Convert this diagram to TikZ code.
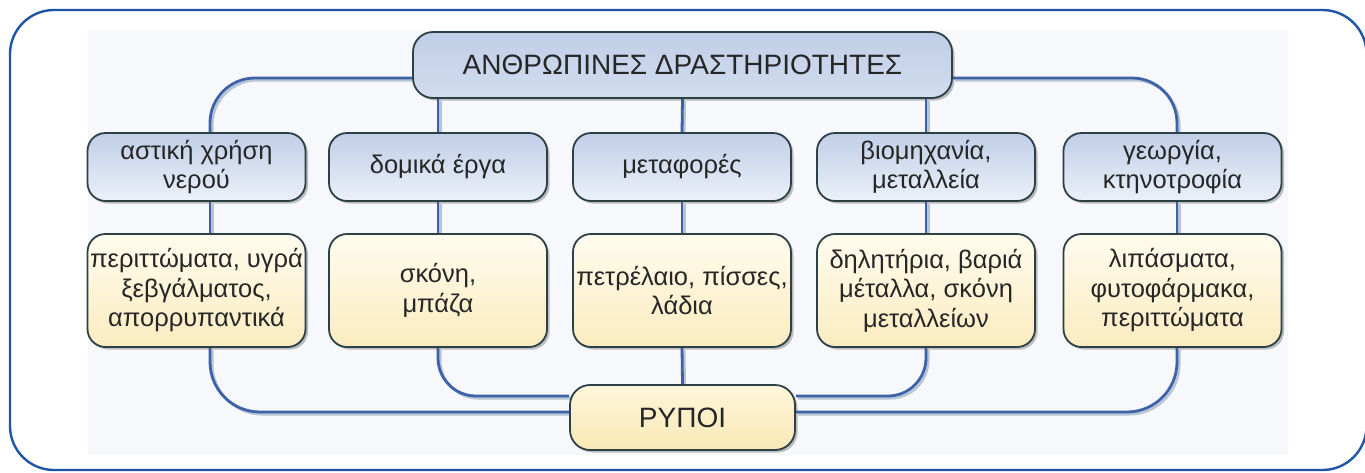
\documentclass[tikz,border=0pt]{standalone}
\usepackage{fontspec}
\setmainfont{Liberation Sans}
\usetikzlibrary{shadows}
\definecolor{framec}{RGB}{30,85,168}
\definecolor{bgc}{RGB}{246,248,252}
\definecolor{linkc}{RGB}{62,98,168}
\definecolor{links}{RGB}{182,196,214}
\definecolor{boxline}{RGB}{45,64,70}
\definecolor{bluetop}{RGB}{192,206,231}
\definecolor{bluebot}{RGB}{236,241,249}
\definecolor{yeltop}{RGB}{255,252,238}
\definecolor{yelbot}{RGB}{251,236,192}
\definecolor{rtop}{RGB}{254,246,218}
\definecolor{rbot}{RGB}{249,232,182}
\pgfdeclarelayer{back}
\pgfdeclarelayer{mid}
\pgfsetlayers{back,mid,main}
\newcommand{\dblpath}[1]{\draw[lnshadow] #1; \draw[lnmain] #1;}
\begin{document}
\begin{tikzpicture}[x=1pt,y=-1pt,
  box/.style={draw=boxline, line width=1.8pt, rounded corners=18pt, align=center,
    inner sep=1pt, font=\fontsize{25.5}{29.5}\selectfont, text=black!85,
    drop shadow={shadow xshift=2.5pt,shadow yshift=-2.5pt,opacity=0.35,fill=black!70}},
  bluebox/.style={box, top color=bluetop, bottom color=bluebot, minimum width=218pt, minimum height=68pt},
  yelbox/.style={box, top color=yeltop, bottom color=yelbot, minimum width=218pt, minimum height=113pt},
  titlebox/.style={box, font=\fontsize{28}{32}\selectfont, rounded corners=20pt},
  lnmain/.style={draw=linkc, line width=2.8pt},
  lnshadow/.style={draw=links, line width=2.6pt, transform canvas={shift={(2.2pt,-2.2pt)}}}]
\useasboundingbox (0,0) rectangle (1365,472);
\begin{pgfonlayer}{back}
\draw[framec, line width=2.4pt, rounded corners=44pt] (10,10) rectangle (1366.5,470);
\fill[bgc] (88,30) rectangle (1288,455);
\end{pgfonlayer}

\node[titlebox, top color=bluetop, bottom color=bluetop!60!bluebot, minimum width=539pt, minimum height=66pt] (T) at (682.5,65) {ΑΝΘΡΩΠΙΝΕΣ ΔΡΑΣΤΗΡΙΟΤΗΤΕΣ};

\node[bluebox] (M1) at (196.5,167) {αστική χρήση\\νερού};
\node[bluebox] (M2) at (438,167) {δομικά έργα};
\node[bluebox] (M3) at (682,167) {μεταφορές};
\node[bluebox] (M4) at (926,167) {βιομηχανία,\\μεταλλεία};
\node[bluebox] (M5) at (1172.5,167) {γεωργία,\\κτηνοτροφία};

\node[yelbox] (B1) at (196.5,290.5) {περιττώματα, υγρά\\ξεβγάλματος,\\απορρυπαντικά};
\node[yelbox] (B2) at (438,290.5) {σκόνη,\\μπάζα};
\node[yelbox] (B3) at (682,290.5) {πετρέλαιο, πίσσες,\\λάδια};
\node[yelbox] (B4) at (926,290.5) {δηλητήρια, βαριά\\μέταλλα, σκόνη\\μεταλλείων};
\node[yelbox] (B5) at (1172.5,290.5) {λιπάσματα,\\φυτοφάρμακα,\\περιττώματα};

\node[titlebox, top color=rtop, bottom color=rbot, minimum width=225pt, minimum height=65pt] (R) at (682.5,417.5) {ΡΥΠΟΙ};

\begin{pgfonlayer}{mid}
\dblpath{[rounded corners=45pt] ([yshift=-13pt]T.west) -| ([xshift=13.5pt]M1.north)}
\dblpath{[rounded corners=45pt] ([yshift=-13pt]T.east) -| ([xshift=4.5pt]M5.north)}
\dblpath{(M2.north |- T.south) -- (M2.north)}
\dblpath{(T.south) -- (M3.north)}
\dblpath{(M4.north |- T.south) -- (M4.north)}
\dblpath{([xshift=13.5pt]M1.south) -- ([xshift=13.5pt]B1.north)}
\dblpath{(M2.south) -- (B2.north)}
\dblpath{(M3.south) -- (B3.north)}
\dblpath{(M4.south) -- (B4.north)}
\dblpath{([xshift=4.5pt]M5.south) -- ([xshift=4.5pt]B5.north)}
\dblpath{[rounded corners=50pt] ([xshift=13.5pt]B1.south) |- ([yshift=5.5pt]R.west)}
\dblpath{[rounded corners=38pt] (B2.south) |- ([yshift=21.5pt]R.west)}
\dblpath{(B3.south) -- (R.north)}
\dblpath{[rounded corners=38pt] (B4.south) |- ([yshift=21.5pt]R.east)}
\dblpath{[rounded corners=50pt] ([xshift=4.5pt]B5.south) |- ([yshift=5.5pt]R.east)}
\end{pgfonlayer}
\end{tikzpicture}
\end{document}
